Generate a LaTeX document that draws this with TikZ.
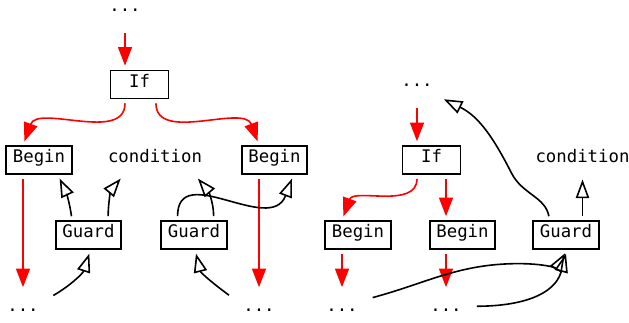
\documentclass[tikz,border=0pt]{standalone}
\usepackage{fontspec}
\setmonofont{DejaVu Sans Mono}
\usetikzlibrary{arrows.meta}

\begin{document}
\begin{tikzpicture}
  [x=0.75pt,y=-0.75pt,line width=1.2pt,
   every node/.style={font=\ttfamily\fontsize{13}{15}\selectfont},
   box/.style={draw,rectangle,minimum width=43.5pt,minimum height=21pt,
     inner xsep=5pt,inner ysep=0pt,text height=8pt,text depth=4pt},
   cond/.style={inner xsep=0pt,minimum height=22pt,text height=8pt,text depth=4pt},
   dots/.style={inner sep=0pt,minimum width=39pt,minimum height=27pt},
   flow/.style={red,-{Triangle[length=14pt,width=10.5pt]},shorten <=3pt,shorten >=3pt},
   dep/.style={-{Triangle[open,length=14pt,width=10pt]},shorten <=3pt,shorten >=3pt}]
  \useasboundingbox (0,0) rectangle (629,322);

  % two-branch if
  \node[dots] (ta) at (125,10) {...};
  \node[box] (ifa) at (139.5,84.5) {If};
  \node[box] (bla) at (39,160) {Begin};
  \node[cond] (cda) at (155,160) {condition};
  \node[box] (bra) at (274.5,160) {Begin};
  \node[box] (gla) at (88.5,235) {Guard};
  \node[box] (gra) at (194,235) {Guard};
  \node[dots] (dla) at (23,310) {...};
  \node[dots] (dra) at (259,310) {...};

  % if inside a loop
  \node[dots] (tb) at (417,85) {...};
  \node[box] (ifb) at (431.5,160) {If};
  \node[box] (blb) at (358,235) {Begin};
  \node[box] (bmb) at (462.5,235) {Begin};
  \node[box] (gb) at (566,235) {Guard};
  \node[cond] (cdb) at (582.5,160) {condition};
  \node[dots] (dlb) at (342,310) {...};
  \node[dots] (dmb) at (446,310) {...};

  % control flow
  \foreach \from/\to in {ta/ifa,tb/ifb}
    \draw[flow] (\from) -- (\to.north -| \from);
  \foreach \from/\to in {bla/dla,bra/dra,blb/dlb,bmb/dmb}
    \draw[flow] (\from.south -| \to) -- (\to);
  \draw[flow] (ifa.south -| ta) to[out=-90,in=70] (bla.north -| dla);
  \draw[flow] (ifa.318) to[out=-90,in=110] (bra.north -| dra);
  \draw[flow] (ifb.south -| tb) to[out=-90,in=70] (blb.north -| dlb);
  \draw[flow] (ifb.south -| dmb) -- (bmb.north -| dmb);

  % guards
  \draw[dep] (gla.138) to[out=98,in=-65] (bla.322);
  \draw[dep] (gla.37) to[out=90,in=-130] (cda.206);
  \draw[dep] (gra.138) .. controls +(0,-60) and +(-23,61) .. (bra.322);
  \draw[dep] (gra.37) to[out=90,in=-50] (cda.339);
  \draw[dep] (dla.25) to[out=30,in=-108] (gla.278);
  \draw[dep] (dra.155) to[out=144,in=-76] (gra.274);
  \draw[dep,shorten >=0pt] (gb.138) to[out=100,in=-63] ++(-38,-47)
    to[out=117,in=-26] (tb.332);
  \draw[dep] (cdb |- gb.north) -- (cdb);
  \draw[dep] (dlb.23) to[out=15,in=180] ++(150,-35) to[out=0,in=240] (gb.274);
  \draw[dep] (dmb.8) to[out=0,in=-105,looseness=1.1] (gb.274);
\end{tikzpicture}
\end{document}
